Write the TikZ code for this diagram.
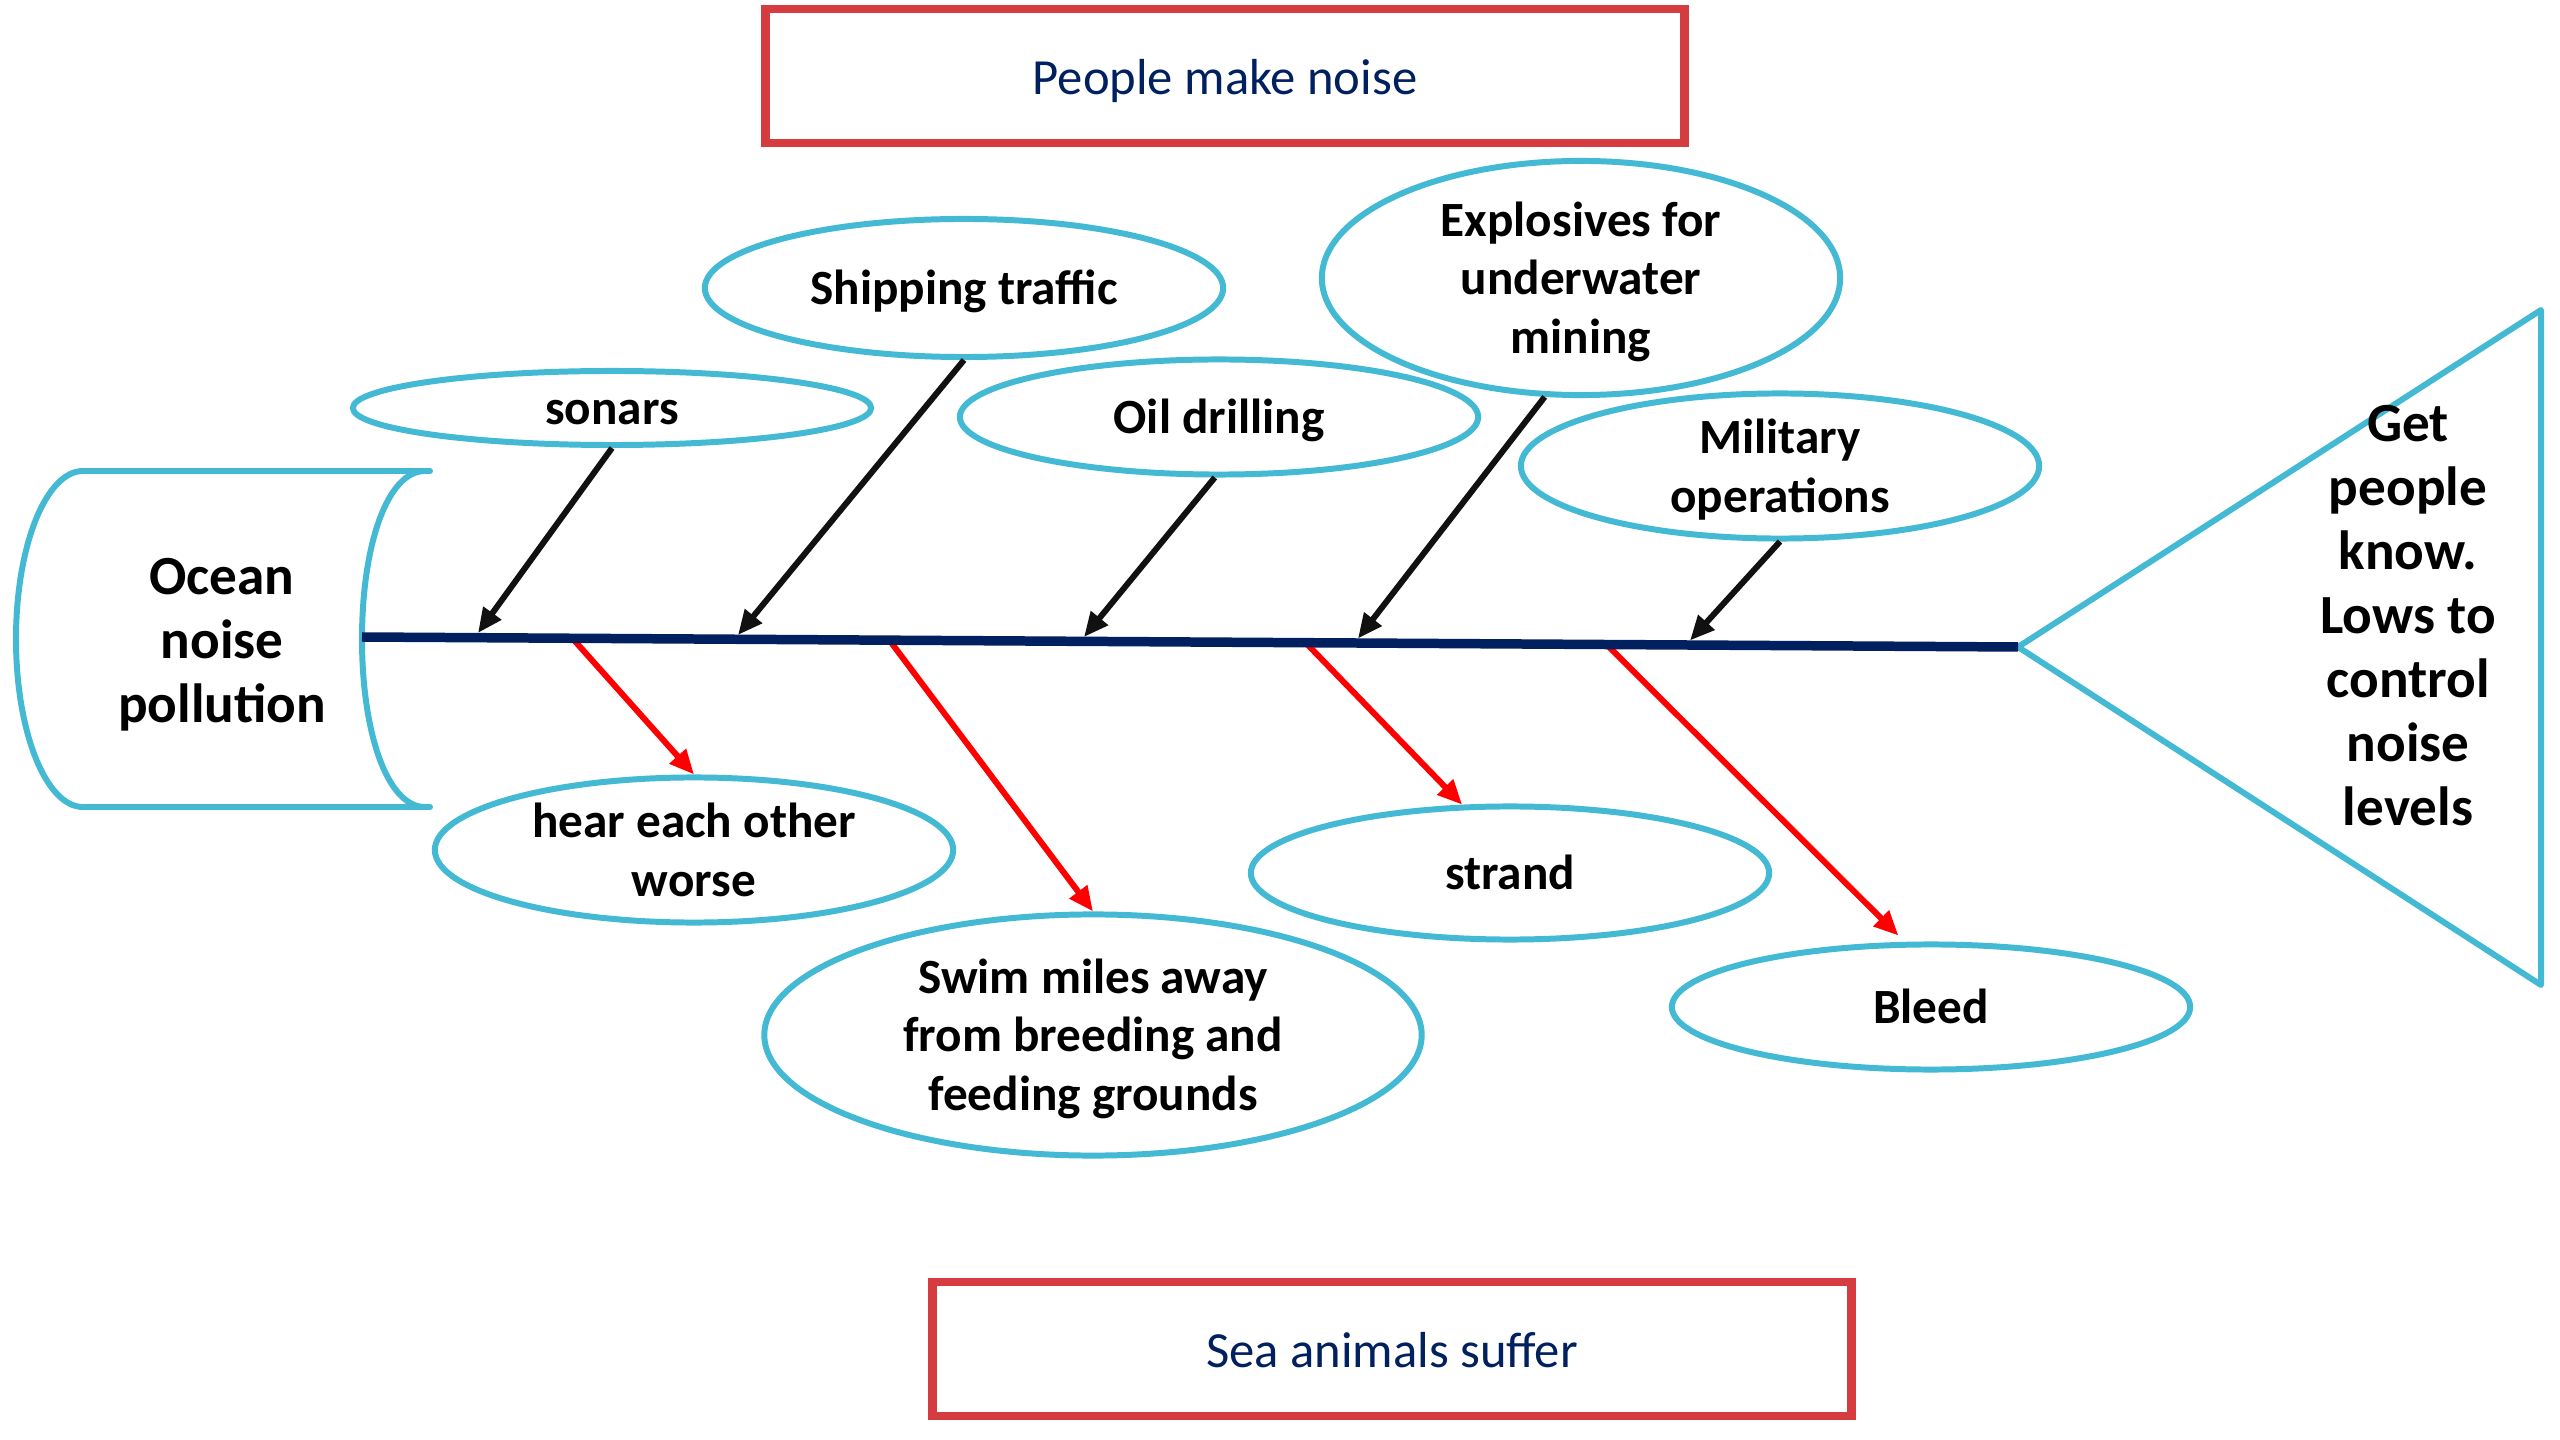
\documentclass[tikz,border=0pt]{standalone}
\usepackage{fontspec}
\setmainfont{Carlito}
\usetikzlibrary{shapes.geometric,arrows.meta}
\definecolor{fcyan}{HTML}{43B9D4}
\definecolor{fnavy}{HTML}{002060}
\definecolor{fred}{HTML}{D63B3F}
\definecolor{ared}{HTML}{FF0000}
\definecolor{ablack}{HTML}{111111}
\tikzset{
  cause/.style={ellipse, draw=fcyan, line width=1.7pt, inner sep=0pt, align=center,
    font=\bfseries\fontsize{14}{16.7}\selectfont, text=black},
  titlebox/.style={draw=fred, line width=2.5pt, minimum width=9.18cm, minimum height=1.34cm,
    font=\fontsize{14.4}{17}\selectfont, text=fnavy, text height=14.4pt, text depth=4pt},
  inarrow/.style={draw=ablack, line width=1.7pt, -{Triangle[length=7pt,width=6pt]}},
  outarrow/.style={draw=ared, line width=1.7pt, -{Triangle[length=7pt,width=6pt]}},
  bigtext/.style={align=center, font=\bfseries\fontsize{15.7}{18.2}\selectfont, text=black},
  outline/.style={draw=fcyan, line width=1.7pt, line cap=round, line join=round},
  oneline/.style={text height=9.6pt, text depth=0pt},
  twoline/.style={text height=26.3pt, text depth=0pt},
  threeline/.style={text height=43pt, text depth=0pt}
}
\begin{document}
\begin{tikzpicture}[x=0.01cm,y=-0.01cm]
\useasboundingbox[fill=white] (0,0) rectangle (2560,1440);

% title boxes
\node[titlebox] (top) at (1225,76) {People make noise};
\node[titlebox] (bottom) at (1392,1349) {Sea animals suffer};

% tail
\draw[outline] (430,471) -- (83,471) .. controls (46,471) and (16,546) .. (16,639)
  .. controls (16,732) and (46,807) .. (83,807) -- (430,807);
\draw[outline] (425,471) .. controls (387,471) and (362,546) .. (362,639)
  .. controls (362,732) and (387,807) .. (425,807);
\node[bigtext, text height=51pt, text depth=4pt] (tail) at (222,640) {Ocean\\noise\\pollution};

% head
\coordinate (spL) at (362,637);
\coordinate (spR) at (2018,647);
\coordinate (hT) at (2541,310);
\coordinate (hB) at (2541,985);
\draw[outline] (spR) -- (hT) -- (hB) -- cycle;
\node[bigtext, text height=123.8pt, text depth=4pt] (head) at (2408,615) {Get\\people\\know.\\Lows to\\control\\noise\\levels};

% causes
\node[cause, oneline, minimum width=5.18cm, minimum height=0.74cm] (sonars) at (612,408) {sonars};
\node[cause, oneline, minimum width=5.18cm, minimum height=1.38cm] (ship) at (964,288) {Shipping traffic};
\node[cause, oneline, minimum width=5.18cm, minimum height=1.15cm] (oil) at (1219,417) {Oil drilling};
\node[cause, threeline, minimum width=5.18cm, minimum height=2.34cm] (expl) at (1581,278) {Explosives for\\underwater\\mining};
\node[cause, twoline, minimum width=5.18cm, minimum height=1.45cm] (mil) at (1780,466) {Military\\operations};

% effects
\node[cause, twoline, minimum width=5.18cm, minimum height=1.45cm] (hear) at (694,850) {hear each other\\worse};
\node[cause, threeline, minimum width=6.57cm, minimum height=2.41cm] (swim) at (1093,1035) {Swim miles away\\from breeding and\\feeding grounds};
\node[cause, oneline, minimum width=5.18cm, minimum height=1.33cm] (strand) at (1510,873) {strand};
\node[cause, oneline, minimum width=5.18cm, minimum height=1.25cm] (bleed) at (1931,1007) {Bleed};

% spine points
\coordinate (b1) at (478,633);
\coordinate (b2) at (738,635);
\coordinate (b3) at (1084,637);
\coordinate (b4) at (1358,638.5);
\coordinate (b5) at (1690,640.5);
\coordinate (r1) at (573,639);
\coordinate (r2) at (890,641);
\coordinate (r3) at (1306,643);
\coordinate (r4) at (1607,645);

\draw[inarrow] (sonars.south) -- (b1);
\draw[inarrow] (ship.south) -- (b2);
\draw[inarrow] (oil.266) -- (b3);
\draw[inarrow] (expl.253) -- (b4);
\draw[inarrow] (mil.south) -- (b5);

\draw[outarrow] (r1) -- (hear.north);
\draw[outarrow] (r2) -- (swim.north);
\draw[outarrow] (r3) -- (strand.125);
\draw[outarrow, shorten >=2.5pt] (r4) -- (bleed.112);

% spine
\draw[fnavy, line width=2.7pt] (spL) -- (spR);
\end{tikzpicture}
\end{document}
